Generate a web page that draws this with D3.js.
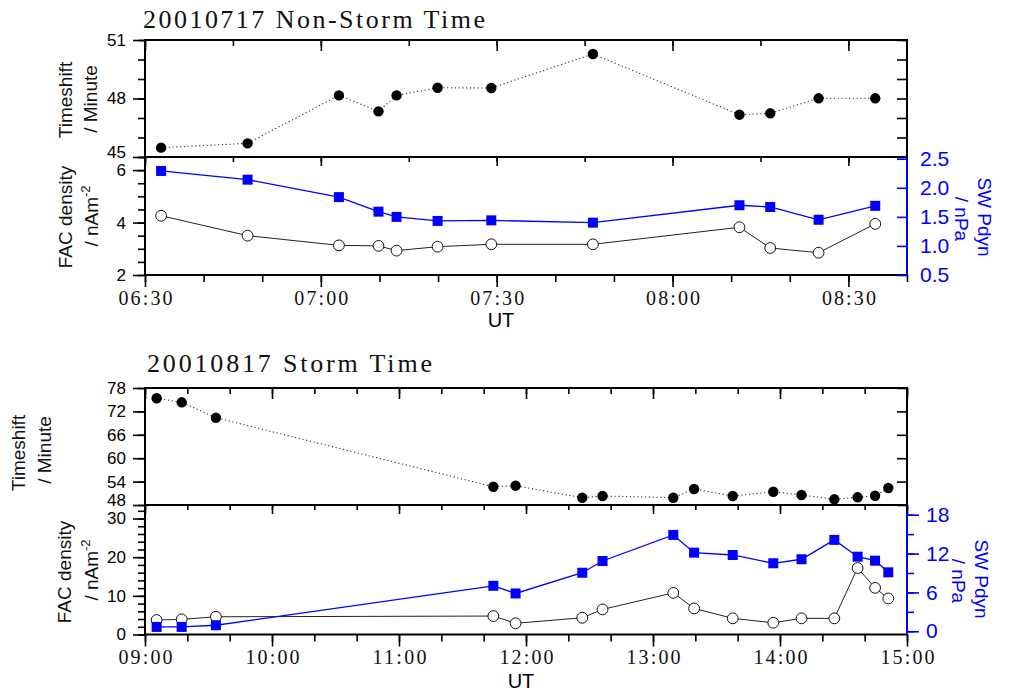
<!DOCTYPE html>
<html><head><meta charset="utf-8">
<script src="https://cdn.jsdelivr.net/npm/d3@7"></script>
<style>body{margin:0;background:#fff}</style>
</head><body><svg id="c" width="1009" height="691"></svg>
<script>
// ---------------- data ----------------
const titles = ["20010717 Non-Storm Time", "20010817 Storm Time"];

const topTimes = ["06:32:45","06:47:30","07:03:05","07:09:50","07:12:55","07:19:55","07:29:05","07:46:25","08:11:25","08:16:40","08:24:55","08:34:35"];
const topShift = [45.48,45.70,48.16,47.34,48.16,48.55,48.54,50.28,47.17,47.24,48.01,48.01];
const topFAC   = [4.26,3.50,3.13,3.11,2.93,3.08,3.17,3.17,3.82,3.03,2.85,3.95];
const topPdyn  = [2.29,2.14,1.84,1.59,1.50,1.43,1.44,1.40,1.70,1.67,1.45,1.69];

const botTimes = ["09:05:30","09:17:20","09:33:30","11:44:35","11:55:05","12:26:35","12:36:10","13:09:35","13:19:25","13:37:40","13:56:50","14:10:10","14:25:40","14:36:40","14:44:55","14:51:10"];
const botShift = [75.36,74.33,70.38,52.69,52.95,49.87,50.31,49.87,52.10,50.31,51.41,50.56,49.46,49.97,50.38,52.36];
const botFAC   = [3.74,3.92,4.59,4.77,2.89,4.33,6.49,10.77,6.75,4.18,3.04,4.18,4.18,17.2,12.06,9.33];
const botPdyn  = [0.67,0.67,0.93,7.02,5.84,9.04,10.85,14.88,12.14,11.78,10.5,11.12,14.11,11.52,10.9,9.1];

const topShiftLabels = [45,48,51];
const topFACLabels = [2,4,6];
const topPdynLabels = [0.5,1.0,1.5,2.0,2.5];
const botShiftLabels = [48,54,60,66,72,78];
const botFACLabels = [0,10,20,30];
const botPdynLabels = [0,6,12,18];

// ---------------- drawing ----------------
const svg = d3.select("#c");
const parse = d3.timeParse("%H:%M:%S");
const parseHM = d3.timeParse("%H:%M");
const L = 145, R = 907;
const BLUE = "#0000ff";
const serif = "'Liberation Serif','Times New Roman',serif";
const sans = "'Liberation Sans',Arial,sans-serif";
const fmtInt = d3.format("d");

function styleAxis(g, color, size){
  g.select(".domain").remove();
  g.selectAll("line").attr("stroke", color).attr("stroke-width", 1.6);
  g.selectAll("text").attr("fill", color).style("font-family", sans).style("font-size", (size||17) + "px");
  return g;
}
function G(tx, ty){ return svg.append("g").attr("transform", `translate(${tx},${ty})`); }

function panel(c){
  const x = d3.scaleTime().domain([parseHM(c.xStart), parseHM(c.xEnd)]).range([L, R]);
  const ys = d3.scaleLinear().domain(c.shiftDomain).range([c.mid, c.top]);
  const yf = d3.scaleLinear().domain(c.facDomain).range([c.bot, c.mid]);
  const yp = d3.scaleLinear().domain(c.pdynDomain).range([c.bot, c.mid]);
  const t = c.times.map(parse);

  // title
  svg.append("text").attr("x", c.titleX).attr("y", c.titleY)
    .attr("textLength", c.titleLen).attr("lengthAdjust", "spacing")
    .style("font-family", serif).style("font-size", "26px").attr("fill", "#111")
    .text(c.title);

  // frames
  svg.append("rect").attr("x", L).attr("y", c.top).attr("width", R - L).attr("height", c.mid - c.top)
    .attr("fill", "none").attr("stroke", "#000").attr("stroke-width", 2);
  svg.append("line").attr("x1", L).attr("x2", L).attr("y1", c.mid).attr("y2", c.bot).attr("stroke", "#000").attr("stroke-width", 2);
  svg.append("line").attr("x1", L).attr("x2", R).attr("y1", c.bot).attr("y2", c.bot).attr("stroke", "#000").attr("stroke-width", 2);
  svg.append("line").attr("x1", R).attr("x2", R).attr("y1", c.mid).attr("y2", c.bot + 1).attr("stroke", BLUE).attr("stroke-width", 2);

  // x ticks
  const minorTop = x.ticks(c.xMinorTop), majorX = x.ticks(c.xMajor), minorBot = x.ticks(c.xMinorBot);
  styleAxis(G(0, c.top).call(d3.axisBottom(x).tickValues(minorTop).tickSize(6).tickFormat("")), "#000");
  styleAxis(G(0, c.top).call(d3.axisBottom(x).tickValues(majorX).tickSize(11).tickFormat("")), "#000");
  styleAxis(G(0, c.mid).call(d3.axisBottom(x).tickValues(minorTop).tickSize(5).tickFormat("")), "#000");
  styleAxis(G(0, c.mid).call(d3.axisBottom(x).tickValues(majorX).tickSize(9).tickFormat("")), "#000");
  styleAxis(G(0, c.bot).call(d3.axisBottom(x).tickValues(minorBot).tickSize(7).tickFormat("")), "#000");
  const gx = styleAxis(G(0, c.bot).call(d3.axisBottom(x).tickValues(majorX).tickSize(12).tickFormat(d3.timeFormat("%H:%M"))), "#000");
  gx.selectAll("text").attr("y", c.xLabelDY).attr("dy", 0)
    .attr("textLength", 54).attr("lengthAdjust", "spacing")
    .style("font-family", serif).style("font-size", "20px").attr("fill", "#111");
  svg.append("text").attr("x", c.utX).attr("y", c.utY).attr("text-anchor", "middle")
    .style("font-family", sans).style("font-size", "20px").text("UT");

  // timeshift y axes
  styleAxis(G(L, 0).call(d3.axisLeft(ys).tickValues(c.shiftMinor).tickSize(7).tickFormat("")), "#000");
  const gsl = styleAxis(G(L, 0).call(d3.axisLeft(ys).tickValues(c.shiftLabels).tickSize(12).tickPadding(7).tickFormat(fmtInt)), "#000");
  gsl.selectAll("text").filter(d => d === c.shiftDomain[0]).attr("dy", "0.05em");
  styleAxis(G(R, 0).call(d3.axisLeft(ys).tickValues(c.shiftMinor).tickSize(10).tickFormat("")), "#000");

  // FAC left axis
  styleAxis(G(L, 0).call(d3.axisLeft(yf).tickValues(c.facMinor).tickSize(7).tickFormat("")), "#000");
  styleAxis(G(L, 0).call(d3.axisLeft(yf).tickValues(c.facLabels).tickSize(12).tickPadding(7).tickFormat(fmtInt)), "#000");

  // Pdyn right axis
  if (c.pdynInward) {
    styleAxis(G(R, 0).call(d3.axisLeft(yp).tickValues(c.pdynLabels).tickSize(10).tickFormat("")), BLUE);
    styleAxis(G(R, 0).call(d3.axisRight(yp).tickValues(c.pdynLabels).tickSize(0).tickPadding(13).tickFormat(d3.format(".1f"))), BLUE, 21);
  } else {
    styleAxis(G(R, 0).call(d3.axisRight(yp).tickValues(c.pdynMinor).tickSize(7).tickFormat("")), BLUE);
    styleAxis(G(R, 0).call(d3.axisRight(yp).tickValues(c.pdynLabels).tickSize(12).tickPadding(7).tickFormat(fmtInt)), BLUE, 21);
  }

  // axis titles
  const vlabel = (tx, ty, rot, lines, color) => {
    const tt = svg.append("text").attr("transform", `translate(${tx},${ty}) rotate(${rot})`)
      .attr("text-anchor", "middle").style("font-family", sans).style("font-size", "19px").attr("fill", color || "#111");
    lines(tt);
  };
  vlabel(c.lab.ts1[0], c.lab.ts1[1], -90, s => s.text("Timeshift"));
  vlabel(c.lab.ts2[0], c.lab.ts2[1], -90, s => s.text("/ Minute"));
  vlabel(c.lab.fac1[0], c.lab.fac1[1], -90, s => s.text("FAC density"));
  vlabel(c.lab.fac2[0], c.lab.fac2[1], -90, s => {
    s.append("tspan").text("/ nAm");
    s.append("tspan").attr("dy", -8).style("font-size", "13px").text("-2");
  });
  vlabel(c.lab.sw1[0], c.lab.sw1[1], 90, s => s.text("SW Pdyn"), BLUE);
  vlabel(c.lab.sw2[0], c.lab.sw2[1], 90, s => s.text("/ nPa"), BLUE);

  // data: timeshift
  svg.append("path").datum(c.shift)
    .attr("d", d3.line().x((d, i) => x(t[i])).y(d => ys(d)))
    .attr("fill", "none").attr("stroke", "#333").attr("stroke-width", 1.1).attr("stroke-dasharray", "1.2,2.6");
  svg.append("g").selectAll("circle").data(c.shift).join("circle")
    .attr("cx", (d, i) => x(t[i])).attr("cy", d => ys(d)).attr("r", 5.2).attr("fill", "#000");

  // data: FAC
  svg.append("path").datum(c.fac)
    .attr("d", d3.line().x((d, i) => x(t[i])).y(d => yf(d)))
    .attr("fill", "none").attr("stroke", "#222").attr("stroke-width", 1);
  svg.append("g").selectAll("circle").data(c.fac).join("circle")
    .attr("cx", (d, i) => x(t[i])).attr("cy", d => yf(d)).attr("r", 5.4)
    .attr("fill", "#fff").attr("stroke", "#111").attr("stroke-width", 1);

  // data: Pdyn
  svg.append("path").datum(c.pdyn)
    .attr("d", d3.line().x((d, i) => x(t[i])).y(d => yp(d)))
    .attr("fill", "none").attr("stroke", BLUE).attr("stroke-width", 1.3);
  svg.append("g").selectAll("rect").data(c.pdyn).join("rect")
    .attr("x", (d, i) => x(t[i]) - 5).attr("y", d => yp(d) - 5).attr("width", 10).attr("height", 10)
    .attr("fill", BLUE);
}

panel({
  title: titles[0], titleX: 143, titleY: 28, titleLen: 342,
  top: 40, mid: 157, bot: 275,
  xStart: "06:30", xEnd: "08:40",
  xMinorTop: d3.timeMinute.every(15), xMajor: d3.timeMinute.every(30), xMinorBot: d3.timeMinute.every(10),
  xLabelDY: 30, utX: 501, utY: 327,
  times: topTimes, shift: topShift, fac: topFAC, pdyn: topPdyn,
  shiftDomain: [45, 51], shiftMinor: d3.range(45, 51.01, 1), shiftLabels: topShiftLabels,
  facDomain: [2, 6.5], facMinor: d3.range(2, 6.51, 0.5), facLabels: topFACLabels,
  pdynDomain: [0.5, 2.53], pdynLabels: topPdynLabels, pdynInward: true,
  lab: { ts1: [72, 100], ts2: [97, 99], fac1: [72, 217], fac2: [98, 216], sw1: [978, 217], sw2: [955, 219] }
});

panel({
  title: titles[1], titleX: 147, titleY: 372, titleLen: 285,
  top: 388, mid: 505, bot: 634.5,
  xStart: "09:00", xEnd: "15:00",
  xMinorTop: d3.timeMinute.every(20), xMajor: d3.timeHour.every(1), xMinorBot: d3.timeMinute.every(20),
  xLabelDY: 29, utX: 521, utY: 688,
  times: botTimes, shift: botShift, fac: botFAC, pdyn: botPdyn,
  shiftDomain: [48, 78], shiftMinor: botShiftLabels, shiftLabels: botShiftLabels,
  facDomain: [0, 33.5], facMinor: d3.range(0, 33.1, 2), facLabels: botFACLabels,
  pdynDomain: [-0.5, 19.5], pdynMinor: d3.range(0, 18.1, 3), pdynLabels: botPdynLabels, pdynInward: false,
  lab: { ts1: [25, 453], ts2: [51, 450], fac1: [71, 572], fac2: [98, 570], sw1: [975, 579], sw2: [952, 581] }
});
</script>
</body></html>
